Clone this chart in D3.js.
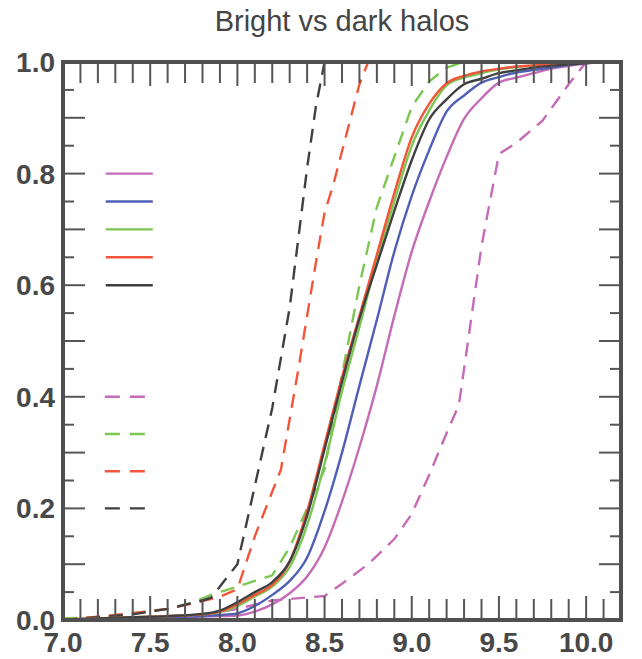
<!DOCTYPE html>
<meta charset="utf-8">
<style>
body { margin: 0; background: #fff; }
.curve { fill: none; stroke-width: 2.4px; }
.dash { stroke-dasharray: 14,9; }
.tick { stroke: #555; stroke-width: 2px; }
.lab { font-family: "Liberation Sans", Arial, sans-serif; font-weight: bold; font-size: 28px; fill: #484848; }
</style>
<body>
<svg id="chart" width="642" height="659"></svg>
<script src="https://d3js.org/d3.v7.min.js"></script>
<script>

// common x grid for the solid curves
var xs = [7.0, 7.2, 7.4, 7.6, 7.8, 7.9, 8.0, 8.1, 8.2, 8.3, 8.4, 8.5, 8.6, 8.7, 8.8, 8.9,
          9.0, 9.1, 9.2, 9.3, 9.4, 9.5, 9.6, 9.7, 9.8, 9.9, 10.0, 10.1, 10.2];

var solidMagenta = [0.000, 0.002, 0.003, 0.004, 0.006, 0.007, 0.008, 0.015, 0.028, 0.048, 0.078, 0.130, 0.212, 0.310, 0.420,
                    0.545, 0.660, 0.750, 0.830, 0.898, 0.935, 0.963, 0.972, 0.980, 0.988, 0.993, 0.997, 1.000, 1.000];
var solidBlue    = [0.000, 0.002, 0.003, 0.005, 0.007, 0.009, 0.012, 0.025, 0.045, 0.070, 0.112, 0.195, 0.300, 0.420, 0.538,
                    0.660, 0.760, 0.842, 0.911, 0.940, 0.963, 0.973, 0.981, 0.986, 0.990, 0.995, 0.998, 1.000, 1.000];
var solidGreen   = [0.001, 0.003, 0.005, 0.007, 0.010, 0.014, 0.025, 0.042, 0.060, 0.095, 0.170, 0.280, 0.410, 0.525, 0.645,
                    0.750, 0.850, 0.913, 0.958, 0.972, 0.980, 0.987, 0.991, 0.994, 0.996, 0.998, 0.999, 1.000, 1.000];
var solidRed     = [0.001, 0.003, 0.005, 0.007, 0.010, 0.015, 0.028, 0.045, 0.063, 0.105, 0.195, 0.315, 0.435, 0.545, 0.655,
                    0.765, 0.865, 0.925, 0.962, 0.975, 0.983, 0.988, 0.992, 0.994, 0.996, 0.998, 0.999, 1.000, 1.000];
var solidBlack   = [0.001, 0.003, 0.005, 0.007, 0.011, 0.017, 0.032, 0.050, 0.068, 0.105, 0.187, 0.306, 0.427, 0.540, 0.637,
                    0.733, 0.824, 0.897, 0.933, 0.960, 0.970, 0.980, 0.985, 0.990, 0.993, 0.996, 0.998, 1.000, 0.999];

// dashed curves have their own x points
var dashMagentaX = [7.0, 7.5, 7.75, 8.0, 8.2, 8.5, 8.6, 8.75, 8.9, 9.0, 9.1, 9.2, 9.27, 9.3, 9.4, 9.5, 9.6, 9.75, 9.9, 10.0, 10.2];
var dashMagentaY = [0.0, 0.003, 0.006, 0.020, 0.035, 0.043, 0.065, 0.100, 0.145, 0.190, 0.260, 0.335, 0.385, 0.450, 0.670, 0.835, 0.855, 0.895, 0.960, 1.0, 1.0];
var dashGreenX = [7.0, 7.2, 7.4, 7.6, 7.75, 7.85, 8.0, 8.1, 8.2, 8.3, 8.4, 8.5, 8.6, 8.7, 8.8, 8.9, 9.0, 9.1, 9.2, 9.3, 10.2];
var dashGreenY = [0.003, 0.005, 0.012, 0.020, 0.032, 0.045, 0.060, 0.070, 0.080, 0.130, 0.200, 0.270, 0.440, 0.600, 0.740, 0.830, 0.920, 0.965, 0.990, 1.0, 1.0];
var dashRedX = [7.0, 7.2, 7.4, 7.6, 7.75, 7.9, 8.0, 8.1, 8.2, 8.25, 8.35, 8.45, 8.5, 8.55, 8.6, 8.7, 8.75, 10.2];
var dashRedY = [0.0, 0.006, 0.012, 0.020, 0.030, 0.042, 0.055, 0.150, 0.230, 0.270, 0.450, 0.640, 0.730, 0.780, 0.840, 0.960, 1.0, 1.0];
var dashBlackX = [7.0, 7.2, 7.4, 7.6, 7.8, 7.85, 7.93, 8.0, 8.1, 8.2, 8.3, 8.4, 8.45, 8.5, 10.2];
var dashBlackY = [0.0, 0.005, 0.010, 0.020, 0.035, 0.040, 0.072, 0.100, 0.240, 0.380, 0.560, 0.810, 0.920, 1.0, 1.0];

var xLabels = [7.0, 7.5, 8.0, 8.5, 9.0, 9.5, 10.0];
var yLabels = [0.0, 0.2, 0.4, 0.6, 0.8, 1.0];

var colMagenta = "#c56bb8", colBlue = "#4f5fb6", colGreen = "#7cc652", colRed = "#f2553a", colBlack = "#404040";

var margin = {top: 62, right: 21, bottom: 39, left: 63},
    width = 642 - margin.left - margin.right,
    height = 659 - margin.top - margin.bottom;

var x = d3.scaleLinear().domain([7.0, 10.2]).range([0, width]);
var y = d3.scaleLinear().domain([0, 1]).range([height, 0]);

var svg = d3.select("#chart");

svg.append("text")
    .attr("x", margin.left + width / 2)
    .attr("y", 31)
    .attr("text-anchor", "middle")
    .style("font-family", "Liberation Sans, Arial, sans-serif")
    .style("font-size", "29px")
    .style("fill", "#444")
    .text("Bright vs dark halos");

var g = svg.append("g")
    .attr("transform", "translate(" + margin.left + "," + margin.top + ")");

// clip so lines stay in the frame
g.append("clipPath").attr("id", "clip")
  .append("rect").attr("width", width).attr("height", height);

// dashed lines are straight segments, solid ones smoothed
var line = d3.line()
    .x(function(d) { return x(d[0]); })
    .y(function(d) { return y(d[1]); });
var smooth = d3.line()
    .curve(d3.curveMonotoneX)
    .x(function(d) { return x(d[0]); })
    .y(function(d) { return y(d[1]); });

var solids = [
  [solidMagenta, colMagenta], [solidBlue, colBlue], [solidGreen, colGreen],
  [solidRed, colRed], [solidBlack, colBlack]
];
var dashes = [
  [dashMagentaX, dashMagentaY, colMagenta], [dashGreenX, dashGreenY, colGreen],
  [dashRedX, dashRedY, colRed], [dashBlackX, dashBlackY, colBlack]
];

var plot = g.append("g").attr("clip-path", "url(#clip)");

dashes.forEach(function(s) {
  plot.append("path")
      .datum(d3.zip(s[0], s[1]))
      .attr("class", "curve dash")
      .style("stroke", s[2])
      .attr("d", line);
});

solids.forEach(function(s) {
  plot.append("path")
      .datum(d3.zip(xs, s[0]))
      .attr("class", "curve")
      .style("stroke", s[1])
      .attr("d", smooth);
});

// x ticks every 0.1, bottom and top
var xt = d3.range(70, 103).map(function(d) { return d / 10; });
xt.forEach(function(v) {
  var len = (Math.round(v * 10) % 5 === 0) ? 24 : 21;
  g.append("line").attr("class", "tick")
      .attr("x1", x(v)).attr("x2", x(v)).attr("y1", height).attr("y2", height - len);
  g.append("line").attr("class", "tick")
      .attr("x1", x(v)).attr("x2", x(v)).attr("y1", 0).attr("y2", len);
});

// y ticks every 0.05, left and right
var yt = d3.range(0, 21).map(function(d) { return d / 20; });
yt.forEach(function(v, i) {
  var len = (i % 2 === 0) ? 22 : 11;
  g.append("line").attr("class", "tick")
      .attr("x1", 0).attr("x2", len).attr("y1", y(v)).attr("y2", y(v));
  g.append("line").attr("class", "tick")
      .attr("x1", width).attr("x2", width - len).attr("y1", y(v)).attr("y2", y(v));
});

// frame
g.append("rect")
    .attr("width", width).attr("height", height)
    .style("fill", "none").style("stroke", "#505050").style("stroke-width", 4);

// labels
g.selectAll(".xlab").data(xLabels).enter().append("text")
    .attr("class", "lab")
    .attr("text-anchor", "middle")
    .attr("x", function(d) { return x(d); })
    .attr("y", height + 32)
    .text(function(d) { return d.toFixed(1); });

g.selectAll(".ylab").data(yLabels).enter().append("text")
    .attr("class", "lab")
    .attr("text-anchor", "end")
    .attr("x", -8)
    .attr("y", function(d) { return y(d) + 10; })
    .text(function(d) { return d.toFixed(1); });

// legend lines (no text)
solids.forEach(function(s, i) {
  var yy = y(0.8 - i * 0.05);
  g.append("line")
      .attr("x1", x(7.245)).attr("x2", x(7.515))
      .attr("y1", yy).attr("y2", yy)
      .style("stroke", s[1]).style("stroke-width", 2.4);
});
dashes.forEach(function(s, i) {
  var yy = y(0.4 - i * 0.2 / 3);
  g.append("line")
      .attr("x1", x(7.24)).attr("x2", x(7.47))
      .attr("y1", yy).attr("y2", yy)
      .style("stroke", s[2]).style("stroke-width", 2.4)
      .style("stroke-dasharray", "15,10");
});

</script>
</body>
